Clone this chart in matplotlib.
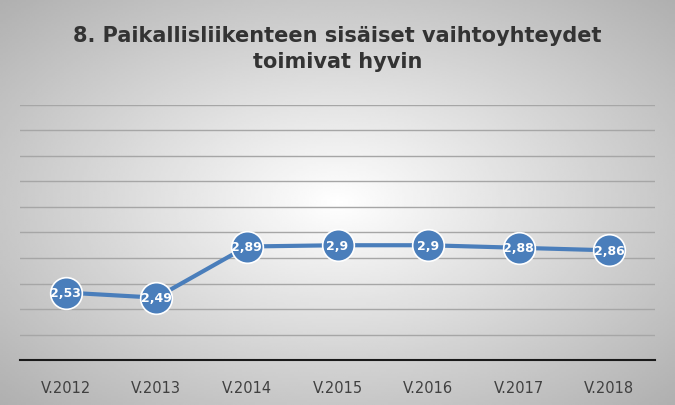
import numpy as np
import matplotlib.pyplot as plt

years = ["V.2012", "V.2013", "V.2014", "V.2015", "V.2016", "V.2017", "V.2018"]
values = [2.53, 2.49, 2.89, 2.90, 2.90, 2.88, 2.86]
labels = ["2,53", "2,49", "2,89", "2,9", "2,9", "2,88", "2,86"]

fig = plt.figure(figsize=(6.75, 4.06), dpi=100)

# radial grey background
bg = fig.add_axes([0, 0, 1, 1], zorder=0)
yy, xx = np.mgrid[-1:1:200j, -1:1:300j]
r = np.sqrt(xx**2 + yy**2)
bg.imshow(1 - 0.22 * r, cmap="gray", vmin=0, vmax=1, aspect="auto", extent=[0, 1, 0, 1])
bg.axis("off")

ax = fig.add_axes([0.03, 0.11, 0.94, 0.63], zorder=1)
ax.patch.set_alpha(0)
x = np.arange(len(years))
ax.plot(x, values, color="#4a7ebb", lw=3, zorder=2)
ax.scatter(x, values, s=520, color="#4a7ebb", edgecolor="white", linewidth=1.2, zorder=3)
for xi, v, t in zip(x, values, labels):
    ax.text(xi, v, t, ha="center", va="center", color="white", fontsize=9,
            fontweight="bold", family="Liberation Sans Narrow", zorder=4)

ax.set_ylim(2.0, 4.0)
ax.set_xlim(-0.5, len(years) - 0.5)
ax.set_yticks(np.arange(2.0, 4.01, 0.2))
ax.yaxis.grid(True, color="#a6a6a6", lw=1)
ax.tick_params(axis="y", left=False, labelleft=False)
ax.tick_params(axis="x", length=0, labelsize=10.5, pad=14)
ax.set_xticks(x)
ax.set_xticklabels(years, color="#404040")
for s in ["top", "right", "left"]:
    ax.spines[s].set_visible(False)
ax.spines["bottom"].set_color("#1a1a1a")
ax.spines["bottom"].set_linewidth(1.5)

fig.text(0.5, 0.88, "8. Paikallisliikenteen sisäiset vaihtoyhteydet\ntoimivat hyvin",
         ha="center", va="center", fontsize=15, fontweight="bold", color="#333333",
         linespacing=1.4)

fig.savefig("out.png", dpi=100)
